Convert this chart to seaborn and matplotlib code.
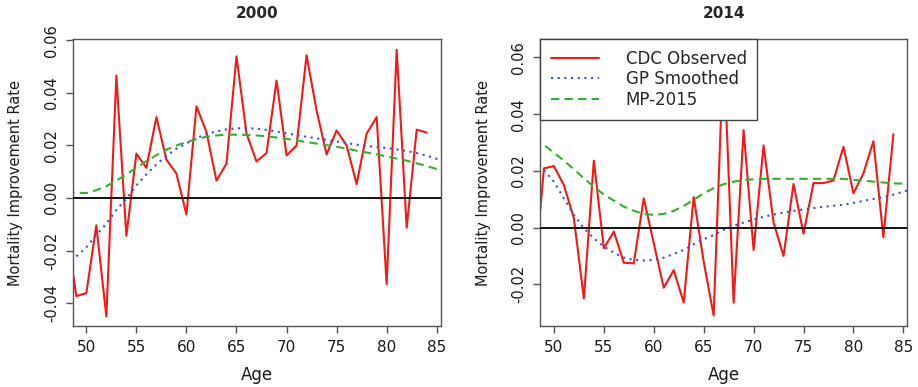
import numpy as np
import pandas as pd
import seaborn as sns
import matplotlib.pyplot as plt
from matplotlib.ticker import MultipleLocator, FormatStrFormatter

# ages for each series
ages_cdc = list(range(48, 85))
ages_gp = list(range(49, 87))
ages_mp = list(range(48, 87))

# 2000
cdc_2000 = [-0.011, -0.0373, -0.0362, -0.0104, -0.0451, 0.0466, -0.0144, 0.0169, 0.0115,
            0.0308, 0.0146, 0.0093, -0.0063, 0.0349, 0.0251, 0.0066, 0.0131, 0.0539,
            0.0245, 0.0139, 0.0171, 0.0447, 0.0162, 0.0200, 0.0543, 0.0333, 0.0166,
            0.0257, 0.0200, 0.0053, 0.0245, 0.0308, -0.0328, 0.0564, -0.0113, 0.0260,
            0.0249]
gp_2000 = [-0.0222, -0.0188, -0.0140, -0.0098, -0.0045, -0.0003, 0.0048, 0.0090, 0.0128,
           0.0160, 0.0188, 0.0208, 0.0228, 0.0243, 0.0254, 0.0261, 0.0265, 0.0266,
           0.0264, 0.0259, 0.0253, 0.0246, 0.0239, 0.0233, 0.0227, 0.0221, 0.0215,
           0.0209, 0.0203, 0.0198, 0.0194, 0.0190, 0.0185, 0.0179, 0.0171, 0.0161,
           0.0149, 0.0135]
mp_2000 = [0.0025, 0.0020, 0.0019, 0.0030, 0.0045, 0.0066, 0.0090, 0.0115, 0.0140,
           0.0163, 0.0184, 0.0200, 0.0213, 0.0224, 0.0233, 0.0238, 0.0241, 0.0241,
           0.0240, 0.0238, 0.0235, 0.0230, 0.0225, 0.0219, 0.0213, 0.0207, 0.0201,
           0.0195, 0.0188, 0.0180, 0.0173, 0.0166, 0.0158, 0.0150, 0.0142, 0.0132,
           0.0122, 0.0110, 0.0098]

# 2014
cdc_2014 = [-0.0188, 0.0209, 0.0217, 0.0150, 0.0033, -0.0250, 0.0236, -0.0073, -0.0014,
            -0.0124, -0.0126, 0.0103, -0.0055, -0.0212, -0.0150, -0.0264, 0.0108, -0.0120,
            -0.0310, 0.0640, -0.0265, 0.0344, -0.0079, 0.0290, 0.0018, -0.0100, 0.0154,
            -0.0022, 0.0157, 0.0157, 0.0166, 0.0285, 0.0121, 0.0191, 0.0305, -0.0034,
            0.0329]
gp_2014 = [0.0203, 0.0162, 0.0103, 0.0045, -0.0002, -0.0038, -0.0067, -0.0088, -0.0106,
           -0.0114, -0.0116, -0.0114, -0.0106, -0.0093, -0.0079, -0.0059, -0.0041, -0.0026,
           -0.0008, 0.0006, 0.0018, 0.0028, 0.0038, 0.0046, 0.0053, 0.0059, 0.0064,
           0.0069, 0.0073, 0.0077, 0.0081, 0.0087, 0.0094, 0.0101, 0.0108, 0.0116,
           0.0127, 0.0137]
mp_2014 = [0.0315, 0.0291, 0.0264, 0.0236, 0.0206, 0.0174, 0.0144, 0.0117, 0.0095,
           0.0074, 0.0059, 0.0048, 0.0045, 0.0048, 0.0059, 0.0076, 0.0098, 0.0121,
           0.0139, 0.0153, 0.0162, 0.0168, 0.0170, 0.0172, 0.0172, 0.0172, 0.0172,
           0.0172, 0.0172, 0.0172, 0.0172, 0.0172, 0.0168, 0.0166, 0.0162, 0.0159,
           0.0156, 0.0155, 0.0154]

series_names = ["CDC Observed", "GP Smoothed", "MP-2015"]
titles = ["2000", "2014"]


def make_frame(cdc, gp, mp):
    parts = []
    for a, v, n in zip([ages_cdc, ages_gp, ages_mp], [cdc, gp, mp], series_names):
        parts.append(pd.DataFrame({"Age": a, "Rate": v, "Series": n}))
    return pd.concat(parts, ignore_index=True)


frames = [make_frame(cdc_2000, gp_2000, mp_2000), make_frame(cdc_2014, gp_2014, mp_2014)]
ylims = [(-0.0487, 0.0605), (-0.0347, 0.0665)]

sns.set_style("ticks")
plt.rcParams["font.family"] = ["DejaVu Sans"]
plt.rcParams["axes.unicode_minus"] = False

palette = {"CDC Observed": "#f51818", "GP Smoothed": "#3d4fd0", "MP-2015": "#35b035"}
dashes = {"CDC Observed": "", "GP Smoothed": (1, 2.2), "MP-2015": (4, 2.5)}

fig = plt.figure(figsize=(9.18, 3.87), dpi=100)
positions = [[0.0792, 0.1576, 0.4009, 0.7416], [0.5886, 0.1576, 0.3998, 0.7416]]

for i, df in enumerate(frames):
    ax = fig.add_axes(positions[i])
    sns.lineplot(data=df, x="Age", y="Rate", hue="Series", style="Series",
                 palette=palette, dashes=dashes, estimator=None, lw=1.5,
                 ax=ax, legend=(i == 1))
    ax.axhline(0, color="black", lw=1.3, zorder=3)
    ax.set_xlim(48.64, 85.4)
    ax.set_ylim(*ylims[i])
    ax.xaxis.set_major_locator(MultipleLocator(5))
    ax.yaxis.set_major_locator(MultipleLocator(0.02))
    ax.yaxis.set_major_formatter(FormatStrFormatter("%.2f"))
    for s in ax.spines.values():
        s.set_color("#555555")
        s.set_linewidth(1.0)
    ax.tick_params(axis="both", direction="out", length=5, width=1.0, color="#555555",
                   labelcolor="#1a1a1a")
    ax.tick_params(axis="x", labelsize=11, pad=5)
    ax.tick_params(axis="y", labelsize=10.5, pad=5, labelrotation=90)
    plt.setp(ax.get_yticklabels(), va="center")
    ax.set_title(titles[i], fontsize=11, fontweight="bold", pad=15)
    ax.set_xlabel("Age", fontsize=12, color="#1a1a1a")
    ax.set_ylabel("Mortality Improvement Rate", fontsize=10.5, color="#1a1a1a")
    ax.xaxis.set_label_coords(0.5, -0.139)
    ax.yaxis.set_label_coords(-0.134, 0.5)
    if i == 1:
        sns.move_legend(ax, "upper left", bbox_to_anchor=(0, 1), title=None,
                        frameon=True, fancybox=False, framealpha=1, borderaxespad=0,
                        fontsize=12, borderpad=0.63, labelspacing=0.165,
                        handlelength=2.9, handletextpad=1.6, edgecolor="#444444")
        leg = ax.get_legend()
        leg.get_frame().set_linewidth(1.0)
        leg.set_zorder(5)

fig.savefig("out.png", dpi=100)
